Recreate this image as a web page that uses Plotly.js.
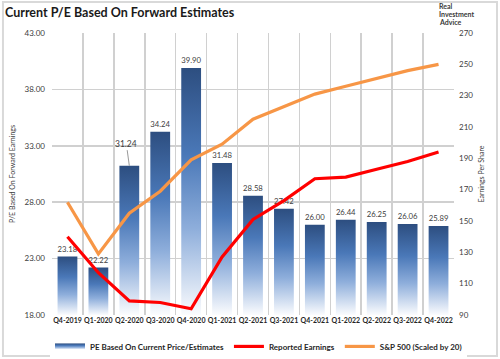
<!DOCTYPE html>
<html><head><meta charset="utf-8">
<script src="https://cdn.plot.ly/plotly-3.0.1.min.js"></script>
<style>body{margin:0;background:#fff}#c{width:500px;height:359px}</style>
</head><body><div id="c"></div>
<script>
const quarters = ["Q4-2019","Q1-2020","Q2-2020","Q3-2020","Q4-2020","Q1-2021","Q2-2021","Q3-2021","Q4-2021","Q1-2022","Q2-2022","Q3-2022","Q4-2022"];
const pe = [23.18,22.22,31.24,34.24,39.90,31.48,28.58,27.42,26.00,26.44,26.25,26.06,25.89];
const reportedEarnings = [140,117,99,98,94,127,151,163,177,178,183,188,194];
const sp500Scaled = [162,129,155,169,189,199,215,223,231,236,241,246,250];
const leftTicks = [18,23,28,33,38,43];
const rightTicks = [90,110,130,150,170,190,210,230,250,270];
const logoLines = ["Real","Investment","Advice"];

const FONT = "Lato, 'Open Sans', sans-serif";
const HALF_W = 0.32;
const BASE = leftTicks[0];
const GRAD = [[0,"#fbfcfe"],[0.35,"#8eaedb"],[0.65,"#4a78b8"],[1,"#2d4e80"]];
const labelIdx = 2;
const idx = quarters.map((q,i)=>i);
const barText = pe.map((v,i)=> i===labelIdx ? "" : v.toFixed(2));

// gradient-filled bar bodies, one closed fill per quarter, drawn on the axes from the pe values
const gradBars = pe.map((v,i)=>({
  type:"scatter", mode:"none", fill:"toself",
  x:[i-HALF_W, i+HALF_W, i+HALF_W, i-HALF_W, i-HALF_W],
  y:[BASE, BASE, v, v, BASE],
  fillgradient:{type:"vertical", colorscale:GRAD},
  line:{width:0}, hoverinfo:"skip",
  name:"PE Based On Current Price/Estimates", legendgroup:"pe", showlegend:i===0
}));

const traces = gradBars.concat([
  {type:"bar", x:idx, y:pe, name:"PE labels", showlegend:false,
   marker:{color:"rgba(0,0,0,0)", line:{width:0}}, width:2*HALF_W,
   text:barText, textposition:"outside", cliponaxis:false,
   textfont:{family:FONT,size:8.5,color:"#404040"}, hoverinfo:"skip"},
  {type:"scatter", mode:"lines", x:idx, y:reportedEarnings, yaxis:"y2",
   name:"Reported Earnings", line:{color:"#ff0000",width:3.2}},
  {type:"scatter", mode:"lines", x:idx, y:sp500Scaled, yaxis:"y2",
   name:"S&P 500 (Scaled by 20)", line:{color:"#f79646",width:3.2}}
]);

const logoAnn = logoLines.map((t,i)=>({xref:"paper", yref:"paper", x:0.958, y:1.094-0.028*i,
  xanchor:"left", yanchor:"middle", text:"<b>"+t+"</b>", showarrow:false,
  font:{family:FONT,size:7,color:"#3a3a3a"}}));

const layout = {
  width:500, height:359,
  margin:{l:52,r:46,t:33,b:44,autoexpand:false},
  paper_bgcolor:"#fff", plot_bgcolor:"#fff",
  font:{family:FONT,color:"#404040"},
  showlegend:true,
  legend:{orientation:"h", x:-0.005, xanchor:"left", y:-0.06, yanchor:"top",
    font:{family:FONT,size:8,color:"#262626",weight:"bold"}, traceorder:"normal",
    itemwidth:30, tracegroupgap:0},
  title:{text:"<b>Current P/E Based On Forward Estimates</b>", xref:"container", x:0.01, xanchor:"left", y:0.965, yanchor:"middle",
    font:{family:FONT,size:12.5,color:"#1a1a1a"}},
  xaxis:{type:"linear", range:[-0.5, quarters.length-0.5], tickmode:"array", tickvals:idx, ticktext:quarters,
    showgrid:false, ticks:"", showline:false, zeroline:false, tickangle:0,
    minor:{tick0:-0.5, dtick:1, showgrid:true, gridcolor:"#d0d0d0", gridwidth:1.5, ticks:""},
    tickfont:{family:FONT,size:7,color:"#262626",weight:"bold"}},
  yaxis:{range:[18,43], tickvals:leftTicks, tickformat:".2f", showgrid:true, gridcolor:"#d0d0d0", gridwidth:1.5,
    zeroline:false, showline:false, ticks:"", ticklabelstandoff:6,
    tickfont:{family:FONT,size:8,color:"#404040"},
    title:{text:"P/E Based On Forward Earnings", font:{family:FONT,size:7,color:"#404040"}, standoff:8}},
  yaxis2:{range:[90,270], tickvals:rightTicks, tickprefix:"$", overlaying:"y", side:"right",
    showgrid:false, zeroline:false, showline:false, ticks:"", ticklabelstandoff:4,
    tickfont:{family:FONT,size:8,color:"#404040"},
    title:{text:"Earnings Per Share", font:{family:FONT,size:7,color:"#404040"}, standoff:6}},
  annotations:[
    {x:idx[labelIdx], y:pe[labelIdx], xref:"x", yref:"y", text:pe[labelIdx].toFixed(2),
     showarrow:true, arrowhead:0, arrowwidth:0.8, arrowcolor:"#7f7f7f", ax:-3, ay:-22,
     font:{family:FONT,size:8.5,color:"#404040"}}
  ].concat(logoAnn),
  shapes:[
    {type:"rect", xref:"paper", yref:"paper", x0:-0.122, x1:1.107, y0:-0.145, y1:1.11,
     line:{color:"#d9d9d9",width:2}, fillcolor:"rgba(0,0,0,0)", layer:"below"}
  ]
};

Plotly.newPlot("c", traces, layout, {staticPlot:true});
</script>
</body></html>
